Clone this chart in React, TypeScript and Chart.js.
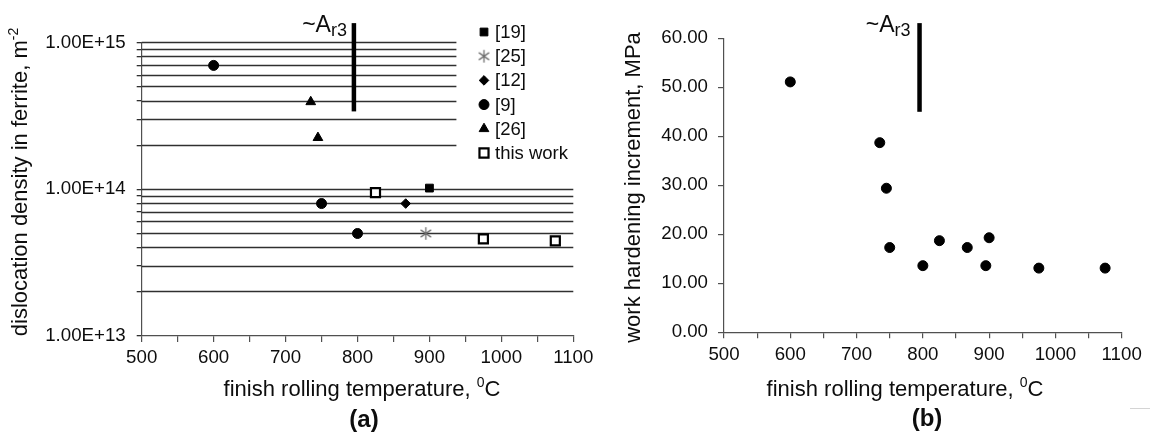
import React, { useEffect, useRef } from 'react';
import { Chart, registerables } from 'chart.js';
import { drawPoint } from 'chart.js/helpers';

Chart.register(...registerables);

// ---------------- data ----------------
const TEMP_MIN = 500;
const TEMP_MAX = 1100;
const TEMP_STEP = 50;
const TEMP_LABEL_EVERY = 100;

// (a) dislocation density in ferrite (m^-2) vs finish rolling temperature
const REF19_TEMP = [900];
const REF19_DENS = [1.02e14];
const REF25_TEMP = [895];
const REF25_DENS = [5.0e13];
const REF12_TEMP = [867];
const REF12_DENS = [8.0e13];
const REF9_TEMP = [600, 750, 800];
const REF9_DENS = [7.0e14, 8.0e13, 5.0e13];
const REF26_TEMP = [735, 745];
const REF26_DENS = [3.95e14, 2.25e14];
const THIS_TEMP = [825, 975, 1075];
const THIS_DENS = [9.5e13, 4.6e13, 4.45e13];

const LEGEND_LABELS = ['[19]', '[25]', '[12]', '[9]', '[26]', 'this work'];

const DENS_MIN = 1e13;
const DENS_MAX = 1e15;
const DENS_DECADES = [1e13, 1e14];
const DENS_MULTIPLIERS = [1, 2, 3, 4, 5, 6, 7, 8, 9];
const DENS_LABELLED = [1e13, 1e14, 1e15];
const SHORT_GRID_FROM = 2e14;
const SHORT_GRID_END_TEMP = 937.5;

// (b) work hardening increment (MPa) vs finish rolling temperature
const WH_TEMP = [600, 735, 745, 750, 800, 825, 867, 895, 900, 975, 1075];
const WH_INC = [51.1, 38.7, 29.4, 17.3, 13.6, 18.7, 17.3, 13.6, 19.3, 13.1, 13.1];
const WH_MIN = 0;
const WH_MAX = 60;
const WH_STEP = 10;

// ~Ar3 marker
const AR3_TEMP = 795;
const AR3_DENS_RANGE = [3.4e14, 1.36e15];
const AR3_WH_RANGE = [45, 63.1];

// ---------------- style ----------------
const FONT = '"Liberation Sans", Arial, Helvetica, sans-serif';
const TEXT = '#0d0d0d';
const AXIS = '#505050';
const GRID = '#303030';
const TICK_SIZE = 18.7;

Chart.defaults.font.family = FONT;

const toPoints = (xs: number[], ys: number[]) => xs.map((x, i) => ({ x, y: ys[i] }));

function makeAsterisk(): HTMLCanvasElement {
  const c = document.createElement('canvas');
  c.width = 15;
  c.height = 15;
  const g = c.getContext('2d')!;
  g.strokeStyle = '#6e6e6e';
  g.lineWidth = 1.3;
  const r = 6.3;
  for (const deg of [90, 35, -35]) {
    const a = (deg * Math.PI) / 180;
    g.beginPath();
    g.moveTo(7.5 - r * Math.cos(a), 7.5 - r * Math.sin(a));
    g.lineTo(7.5 + r * Math.cos(a), 7.5 + r * Math.sin(a));
    g.stroke();
  }
  return c;
}

type Run = { text: string; size: number; dy?: number; weight?: string };

function drawRuns(ctx: CanvasRenderingContext2D, runs: Run[], cx: number, baseY: number) {
  const widths = runs.map((r) => {
    ctx.font = `${r.weight || 'normal'} ${r.size}px ${FONT}`;
    return ctx.measureText(r.text).width;
  });
  const total = widths.reduce((a, b) => a + b, 0);
  let x = cx - total / 2;
  ctx.textAlign = 'left';
  ctx.textBaseline = 'alphabetic';
  runs.forEach((r, i) => {
    ctx.font = `${r.weight || 'normal'} ${r.size}px ${FONT}`;
    ctx.fillText(r.text, x, baseY + (r.dy || 0));
    x += widths[i];
  });
}

function drawAr3Label(ctx: CanvasRenderingContext2D, rightX: number, baseY: number) {
  const big = `normal 23px ${FONT}`;
  const small = `normal 18px ${FONT}`;
  ctx.font = big;
  const w1 = ctx.measureText('~A').width;
  ctx.font = small;
  const w2 = ctx.measureText('r3').width;
  const x0 = rightX - w1 - w2;
  ctx.fillStyle = TEXT;
  ctx.textAlign = 'left';
  ctx.textBaseline = 'alphabetic';
  ctx.font = big;
  ctx.fillText('~A', x0, baseY);
  ctx.font = small;
  ctx.fillText('r3', x0 + w1, baseY + 4);
}

function xScale(height: number) {
  return {
    type: 'linear' as const,
    min: TEMP_MIN,
    max: TEMP_MAX,
    ticks: {
      stepSize: TEMP_STEP,
      autoSkip: false,
      maxRotation: 0,
      padding: 5,
      color: TEXT,
      font: { size: TICK_SIZE, family: FONT },
      callback: (v: any) => (Number(v) % TEMP_LABEL_EVERY === 0 ? String(v) : ''),
    },
    grid: { display: true, drawOnChartArea: false, drawTicks: true, tickLength: 6, color: AXIS, lineWidth: 1.2 },
    border: { display: true, color: AXIS, width: 1.2 },
    afterFit: (s: any) => {
      s.height = height;
    },
  };
}

const commonOptions = {
  responsive: false,
  animation: false as const,
  events: [] as any[],
  plugins: { legend: { display: false }, tooltip: { enabled: false }, title: { display: false } },
};

// ---------------- left chart (a) ----------------
function leftConfig(asterisk: HTMLCanvasElement): any {
  const markerSets = [
    { data: toPoints(REF19_TEMP, REF19_DENS), pointStyle: 'rect', pointRadius: 5.5, backgroundColor: '#000', borderColor: '#000', borderWidth: 1 },
    { data: toPoints(REF25_TEMP, REF25_DENS), pointStyle: asterisk, pointRadius: 6, backgroundColor: '#777', borderColor: '#777', borderWidth: 1 },
    { data: toPoints(REF12_TEMP, REF12_DENS), pointStyle: 'rectRot', pointRadius: 4.8, backgroundColor: '#000', borderColor: '#000', borderWidth: 1 },
    { data: toPoints(REF9_TEMP, REF9_DENS), pointStyle: 'circle', pointRadius: 5, backgroundColor: '#000', borderColor: '#000', borderWidth: 1 },
    { data: toPoints(REF26_TEMP, REF26_DENS), pointStyle: 'triangle', pointRadius: 5.6, backgroundColor: '#000', borderColor: '#000', borderWidth: 1 },
    { data: toPoints(THIS_TEMP, THIS_DENS), pointStyle: 'rect', pointRadius: 6.4, backgroundColor: '#fff', borderColor: '#000', borderWidth: 2.2 },
  ].map((d, i) => ({ ...d, label: LEGEND_LABELS[i], showLine: false }));

  const ar3 = {
    label: 'Ar3',
    data: [
      { x: AR3_TEMP, y: AR3_DENS_RANGE[0] },
      { x: AR3_TEMP, y: AR3_DENS_RANGE[1] },
    ],
    showLine: true,
    borderColor: '#000',
    borderWidth: 4.5,
    borderCapStyle: 'butt',
    pointRadius: 0,
    clip: false,
  };

  const gridTicks = DENS_DECADES.flatMap((d) => DENS_MULTIPLIERS.map((m) => m * d)).concat([DENS_MAX]);

  const plugin = {
    id: 'leftDecor',
    beforeDatasetsDraw(chart: any) {
      const { ctx, chartArea, scales } = chart;
      const x = scales.x;
      const y = scales.y;
      const shortEnd = x.getPixelForValue(SHORT_GRID_END_TEMP);
      ctx.save();
      ctx.strokeStyle = GRID;
      ctx.lineWidth = 1.3;
      for (const t of y.ticks) {
        if (t.value <= DENS_MIN) continue;
        const py = Math.round(y.getPixelForValue(t.value) - 0.5) + 0.5;
        const end = t.value >= SHORT_GRID_FROM ? shortEnd : chartArea.right;
        ctx.beginPath();
        ctx.moveTo(chartArea.left, py);
        ctx.lineTo(end, py);
        ctx.stroke();
      }
      ctx.restore();
    },
    afterDraw(chart: any) {
      const { ctx, scales } = chart;
      const x = scales.x;
      const y = scales.y;
      ctx.save();
      // legend
      const legendMarkerX = 484;
      const legendTextX = 495;
      markerSets.forEach((ds: any, i: number) => {
        const ly = 32 + i * 24.2;
        ctx.fillStyle = ds.backgroundColor;
        ctx.strokeStyle = ds.borderColor;
        ctx.lineWidth = ds.borderWidth;
        drawPoint(ctx, { pointStyle: ds.pointStyle, rotation: 0, radius: ds.pointRadius, borderWidth: ds.borderWidth } as any, legendMarkerX, ly);
        ctx.fillStyle = TEXT;
        ctx.font = `normal 18.5px ${FONT}`;
        ctx.textAlign = 'left';
        ctx.textBaseline = 'middle';
        ctx.fillText(ds.label, legendTextX, ly + 1);
      });
      // Ar3 label
      const lx = x.getPixelForValue(AR3_TEMP);
      const top = y.getPixelForValue(AR3_DENS_RANGE[1]);
      drawAr3Label(ctx, lx - 7, top + 8.5);
      // axis titles
      ctx.fillStyle = TEXT;
      drawRuns(ctx, [
        { text: 'finish rolling temperature, ', size: 22 },
        { text: '0', size: 14, dy: -9 },
        { text: 'C', size: 22 },
      ], 362, 396);
      ctx.save();
      ctx.translate(26.5, 182);
      ctx.rotate(-Math.PI / 2);
      drawRuns(ctx, [
        { text: 'dislocation density in ferrite, m', size: 22 },
        { text: '-2', size: 14, dy: -9 },
      ], 0, 0);
      ctx.restore();
      drawRuns(ctx, [{ text: '(a)', size: 24, weight: 'bold' }], 364, 427);
      ctx.restore();
    },
  };

  return {
    type: 'scatter',
    data: { datasets: [...markerSets, ar3] },
    options: {
      ...commonOptions,
      layout: { padding: { top: 42.7, right: 26.7, left: 0, bottom: 0 } },
      scales: {
        x: xScale(101),
        y: {
          type: 'logarithmic',
          min: DENS_MIN,
          max: DENS_MAX,
          afterBuildTicks: (s: any) => {
            s.ticks = gridTicks.map((v) => ({ value: v, major: DENS_LABELLED.includes(v) }));
          },
          ticks: {
            autoSkip: false,
            padding: 11,
            color: TEXT,
            font: { size: TICK_SIZE, family: FONT },
            callback: (v: any) => {
              const n = Number(v);
              return DENS_LABELLED.some((l) => Math.abs(l - n) / l < 1e-6) ? n.toExponential(2).toUpperCase() : '';
            },
          },
          grid: { display: true, drawOnChartArea: false, drawTicks: true, tickLength: 5, color: GRID, lineWidth: 1.3 },
          border: { display: true, color: AXIS, width: 1.2 },
          afterFit: (s: any) => {
            s.width = 141.7;
          },
        },
      },
    },
    plugins: [plugin],
  };
}

// ---------------- right chart (b) ----------------
function rightConfig(): any {
  const ar3 = {
    label: 'Ar3',
    data: [
      { x: AR3_TEMP, y: AR3_WH_RANGE[0] },
      { x: AR3_TEMP, y: AR3_WH_RANGE[1] },
    ],
    showLine: true,
    borderColor: '#000',
    borderWidth: 4.5,
    borderCapStyle: 'butt',
    pointRadius: 0,
    clip: false,
  };
  const plugin = {
    id: 'rightDecor',
    afterDraw(chart: any) {
      const { ctx, scales } = chart;
      const x = scales.x;
      const y = scales.y;
      ctx.save();
      const lx = x.getPixelForValue(AR3_TEMP);
      const top = y.getPixelForValue(AR3_WH_RANGE[1]);
      drawAr3Label(ctx, lx - 9, top + 8.5);
      ctx.fillStyle = TEXT;
      drawRuns(ctx, [
        { text: 'finish rolling temperature, ', size: 22 },
        { text: '0', size: 14, dy: -9 },
        { text: 'C', size: 22 },
      ], 905 - 590, 396);
      ctx.save();
      ctx.translate(640 - 590, 187.5);
      ctx.rotate(-Math.PI / 2);
      drawRuns(ctx, [{ text: 'work hardening increment, MPa', size: 22 }], 0, 0);
      ctx.restore();
      drawRuns(ctx, [{ text: '(b)', size: 24, weight: 'bold' }], 927 - 590, 426);
      // faint scan mark bottom right
      ctx.strokeStyle = '#d4d4d4';
      ctx.lineWidth = 1;
      ctx.beginPath();
      ctx.moveTo(1130 - 590, 408.5);
      ctx.lineTo(560, 408.5);
      ctx.stroke();
      ctx.restore();
    },
  };
  return {
    type: 'scatter',
    data: {
      datasets: [
        {
          label: 'work hardening increment',
          data: toPoints(WH_TEMP, WH_INC),
          pointStyle: 'circle',
          pointRadius: 5,
          backgroundColor: '#000',
          borderColor: '#000',
          borderWidth: 1,
        },
        ar3,
      ],
    },
    options: {
      ...commonOptions,
      layout: { padding: { top: 38.3, right: 28.3, left: 0, bottom: 0 } },
      scales: {
        x: xScale(104.7),
        y: {
          type: 'linear',
          min: WH_MIN,
          max: WH_MAX,
          ticks: {
            stepSize: WH_STEP,
            autoSkip: false,
            padding: 10,
            color: TEXT,
            font: { size: TICK_SIZE, family: FONT },
            callback: (v: any) => Number(v).toFixed(2),
          },
          grid: { display: true, drawOnChartArea: false, drawTicks: true, tickLength: 6, color: AXIS, lineWidth: 1.2 },
          border: { display: true, color: AXIS, width: 1.2 },
          afterFit: (s: any) => {
            s.width = 134;
          },
        },
      },
    },
    plugins: [plugin],
  };
}

export default function App() {
  const leftRef = useRef<HTMLCanvasElement>(null);
  const rightRef = useRef<HTMLCanvasElement>(null);
  useEffect(() => {
    const asterisk = makeAsterisk();
    const left = new Chart(leftRef.current!, leftConfig(asterisk));
    const right = new Chart(rightRef.current!, rightConfig());
    return () => {
      left.destroy();
      right.destroy();
    };
  }, []);
  return (
    <div style={{ position: 'absolute', left: 0, top: 0, width: 1150, height: 437, background: '#fff', overflow: 'hidden' }}>
      <canvas ref={leftRef} width={600} height={437} style={{ position: 'absolute', left: 0, top: 0, width: 600, height: 437 }} />
      <canvas ref={rightRef} width={560} height={437} style={{ position: 'absolute', left: 590, top: 0, width: 560, height: 437 }} />
    </div>
  );
}
